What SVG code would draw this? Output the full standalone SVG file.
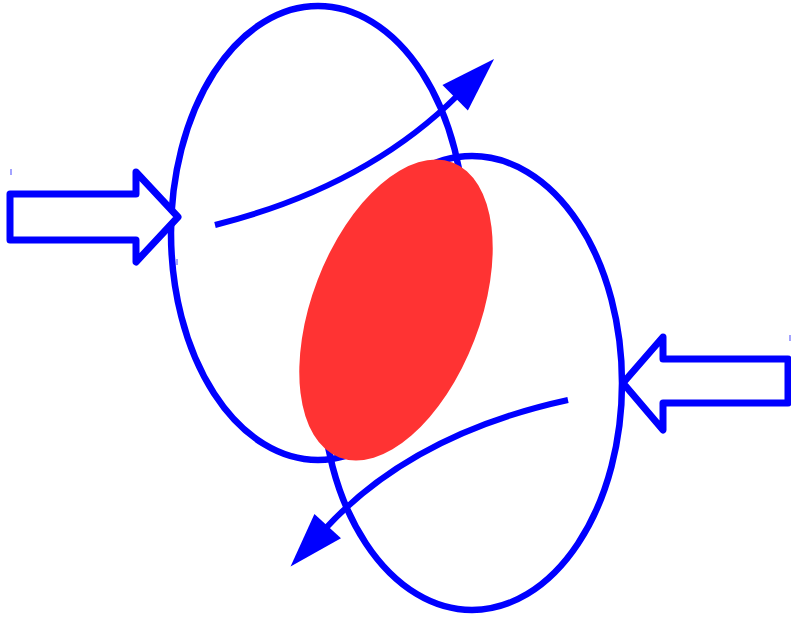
<svg xmlns="http://www.w3.org/2000/svg" width="791" height="618" viewBox="0 0 791 618">
<style>
.loop{fill:none;stroke:#0000FF;stroke-width:6.5}
.block{fill:#FFFFFF;stroke:#0000FF;stroke-width:7;stroke-linejoin:round}
.flow{fill:none;stroke:#0000FF;stroke-width:6}
.tick{stroke:#6666FF;stroke-width:1.2}
</style>
<defs>
<marker id="head" markerUnits="userSpaceOnUse" markerWidth="70" markerHeight="70" refX="0" refY="0" viewBox="-5 -35 70 70" orient="auto" overflow="visible">
<path d="M-4,-18 L51,0 L-4,18 Z" fill="#0000FF"/>
</marker>
</defs>
<rect width="791" height="618" fill="#FFFFFF"/>
<g id="loop-left"><ellipse class="loop" cx="318" cy="233" rx="147" ry="227"/></g>
<g id="loop-right"><ellipse class="loop" cx="472" cy="383" rx="150" ry="227"/></g>
<g id="connectors">
<path class="flow" d="M215,225 Q366,187 458,95" marker-end="url(#head)"/>
<path class="flow" d="M568,400 Q412,434 325,529" marker-end="url(#head)"/>
</g>
<g id="core"><ellipse cx="396" cy="310" rx="84" ry="158" fill="#FF3333" transform="rotate(21 396 310)"/></g>
<g id="input-left"><path class="block" d="M10,194 L136,194 L136,172 L178,217 L136,262 L136,240 L10,240 Z"/></g>
<g id="input-right"><path class="block" d="M788,359 L663,359 L663,337 L623,383 L663,430 L663,403 L788,403 Z"/></g>
<g id="ticks">
<line class="tick" x1="11" y1="169" x2="11" y2="175"/>
<line class="tick" x1="177" y1="259" x2="177" y2="265"/>
<line class="tick" x1="790" y1="335" x2="790" y2="341"/>
</g>
</svg>
